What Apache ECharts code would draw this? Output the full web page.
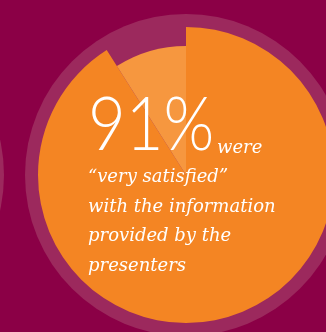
<!DOCTYPE html>
<html>
<head>
<meta charset="utf-8">
<script src="https://cdn.jsdelivr.net/npm/echarts@6/dist/echarts.min.js"></script>
<style>
  html, body { margin: 0; padding: 0; background: #8B0046; }
  #chart { width: 326px; height: 332px; }
</style>
</head>
<body>
<div id="chart"></div>
<script>
// Survey result: share of attendees "very satisfied" with presenter information
const segments = ['very satisfied', 'other'];
const shares = [91, 9];
const headline = '91%';
const headlineTail = 'were';
const captionLines = ['\u201cvery satisfied\u201d', 'with the information', 'provided by the', 'presenters'];

const BG = '#8B0046';
const RING = '#9C295D';
const ORANGE = '#F48523';
const LIGHT_ORANGE = '#F6973F';

const chart = echarts.init(document.getElementById('chart'), null, { renderer: 'canvas' });

const center = [186, 175];

function pieData(colors) {
  return segments.map((name, i) => ({
    name,
    value: shares[i],
    itemStyle: { color: colors[i] }
  }));
}

const common = {
  type: 'pie',
  silent: true,
  startAngle: 90,
  clockwise: true,
  label: { show: false },
  labelLine: { show: false },
  emphasis: { disabled: true },
  animation: false
};

// zrender places text by the top of its line box; shift so glyph baselines land where wanted
function topFor(baseline, fontSize) {
  return baseline - 0.83 * fontSize;
}

const CAPTION_SIZE = 18;
const captionFont = {
  fill: '#FFFFFF',
  fontSize: CAPTION_SIZE,
  fontStyle: 'italic',
  fontFamily: '"DejaVu Serif", serif',
  verticalAlign: 'top',
  align: 'left'
};

const captionBaselines = [183, 213, 242, 272];

chart.setOption({
  backgroundColor: BG,
  animation: false,
  series: [
    // halo behind the neighbouring panel's pie, mostly off the left edge
    Object.assign({}, common, {
      center: [-157, 175],
      radius: 161,
      data: [{ name: 'halo', value: 1, itemStyle: { color: RING } }]
    }),
    Object.assign({}, common, {
      center: [-157, 175],
      radius: 148,
      data: [{ name: 'inner', value: 1, itemStyle: { color: ORANGE } }]
    }),
    // halo around the main pie
    Object.assign({}, common, {
      center: center,
      radius: 161,
      data: [{ name: 'halo', value: 1, itemStyle: { color: RING } }]
    }),
    // main share, full radius
    Object.assign({}, common, {
      center: center,
      radius: 148,
      data: pieData([ORANGE, 'rgba(0,0,0,0)'])
    }),
    // remaining share, drawn on a shorter radius
    Object.assign({}, common, {
      center: center,
      radius: 129,
      data: pieData(['rgba(0,0,0,0)', LIGHT_ORANGE])
    })
  ],
  graphic: {
    elements: [
      {
        type: 'text',
        z: 100,
        x: 88,
        y: topFor(151, 74),
        scaleX: 0.88,
        silent: true,
        style: {
          text: headline,
          fill: '#FFFFFF',
          fontSize: 74,
          fontWeight: 300,
          fontFamily: 'Lato, sans-serif',
          verticalAlign: 'top',
          align: 'left'
        }
      },
      {
        type: 'text',
        z: 100,
        x: 217,
        y: topFor(154, CAPTION_SIZE),
        silent: true,
        style: Object.assign({}, captionFont, { text: headlineTail })
      }
    ].concat(captionLines.map((line, i) => ({
      type: 'text',
      z: 100,
      x: 88,
      y: topFor(captionBaselines[i], CAPTION_SIZE),
      silent: true,
      style: Object.assign({}, captionFont, { text: line })
    })))
  }
});
</script>
</body>
</html>
